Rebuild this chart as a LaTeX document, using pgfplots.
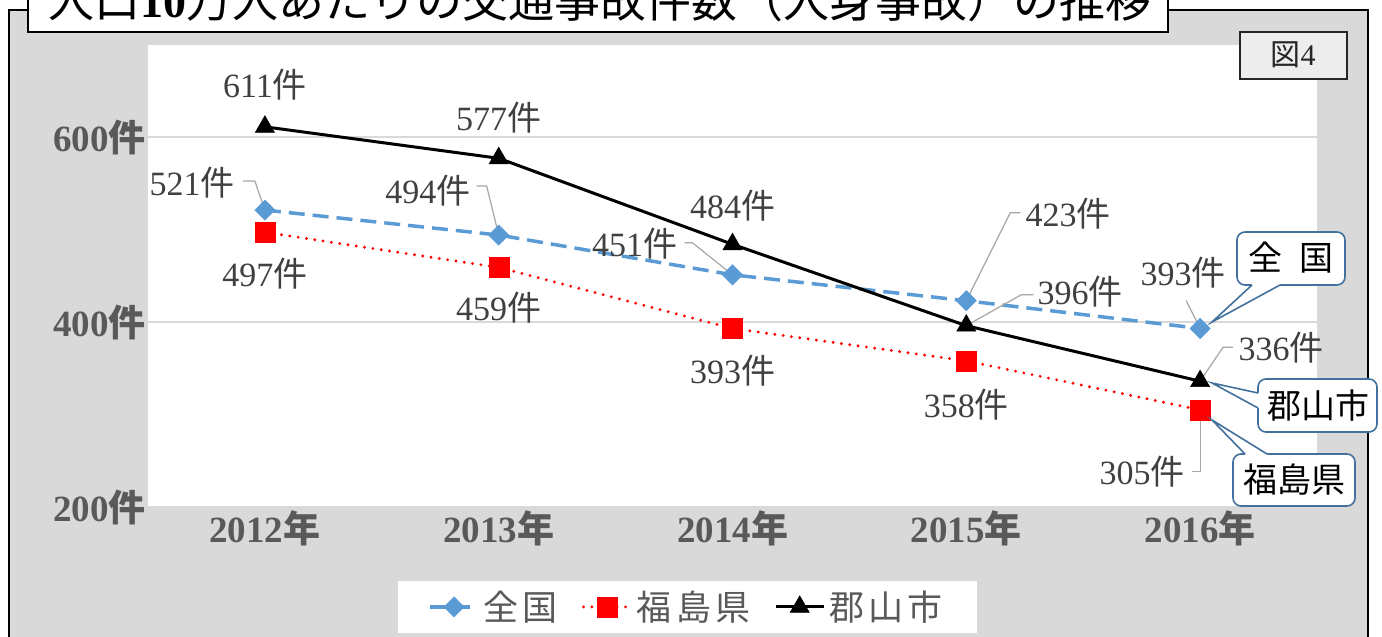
\documentclass[border=0pt]{standalone}
\usepackage{pgfplots}
\pgfplotsset{compat=1.18}
\usepackage{fontspec}
\setmainfont{Liberation Serif}
\newfontfamily\cjk{Noto Sans CJK JP}
\newfontfamily\cjkwide[LetterSpace=12]{Noto Sans CJK JP}
\definecolor{bggray}{HTML}{D9D9D9}
\definecolor{boxgray}{HTML}{EDEDED}
\definecolor{tickgray}{HTML}{595959}
\definecolor{lblgray}{HTML}{404040}
\definecolor{zenkoku}{HTML}{5B9BD5}
\definecolor{callout}{HTML}{41719C}
\definecolor{leader}{HTML}{A6A6A6}
\newcommand{\ken}{{\cjk 件}}
\tikzset{
  lbl/.style={font=\fontsize{17}{17}\selectfont, text=lblgray, inner sep=0pt},
  ldr/.style={leader, line width=0.6pt},
}

\begin{document}
\begin{tikzpicture}
\useasboundingbox (0,0) rectangle (691pt,318.5pt);
\clip (0,0) rectangle (691pt,318.5pt);

% frame and title (coordinates in px, origin top left)
\begin{scope}[x=0.5pt,y=-0.5pt,shift={(0,318.5pt)}]
  \fill[white] (0,0) rectangle (1382,637);
  \draw[black, line width=1pt, fill=bggray] (9,10) rectangle (1368,680);
  \draw[black, line width=1pt, fill=white] (28,-60) rectangle (1168,32);
  \node[font=\fontsize{23}{24}\selectfont] at (600,0)
    {{\cjk 人口}\textbf{10}{\cjk 万人あたりの交通事故件数（人身事故）の推移}};
\end{scope}

\begin{axis}[
    at={(74pt,65pt)}, anchor=south west,
    scale only axis, width=584.5pt, height=231.25pt,
    xmin=-0.5, xmax=4.5, ymin=200, ymax=700,
    xtick={0,1,2,3,4},
    xticklabels={2012{\cjk 年},2013{\cjk 年},2014{\cjk 年},2015{\cjk 年},2016{\cjk 年}},
    ytick={200,400,600},
    yticklabels={200\ken,400\ken,600\ken},
    axis line style={draw=none},
    major tick length=0pt,
    ymajorgrids,
    grid style={bggray, line width=0.6pt},
    axis background/.style={fill=white},
    tick label style={font=\fontsize{18.5}{18.5}\selectfont\bfseries, text=tickgray},
    yticklabel style={anchor=east, inner sep=0pt, xshift=-1pt},
    xticklabel style={anchor=center, inner sep=0pt, yshift=-10.5pt},
    clip=false,
    legend columns=3,
    legend style={at={(axis description cs:0.4615,-0.216)}, anchor=center,
                  fill=white, draw=none, text=tickgray,
                  font=\fontsize{17.5}{17.5}\selectfont\cjkwide,
                  inner xsep=15pt, inner ysep=3pt,
                  /tikz/every even column/.append style={column sep=10pt}},
    legend image code/.code={
      \draw[mark repeat=2, mark phase=2]
        plot coordinates {(0cm,0cm) (0.42cm,0cm) (0.84cm,0cm)};},
  ]

\addplot[zenkoku, line width=1.75pt, dash pattern=on 8pt off 4pt,
         mark=square*, mark size=3.6pt,
         mark options={solid, rotate=45, fill=zenkoku, draw=zenkoku, line width=0.2pt}]
  coordinates {(0,521) (1,494) (2,451) (3,423) (4,393)};
\addlegendentry{全国}

\addplot[red, line width=1.6pt, dash pattern=on 0pt off 4.2pt, line cap=round,
         mark=square*, mark size=5pt,
         mark options={solid, fill=red, draw=red, line width=0.2pt}]
  coordinates {(0,497) (1,459) (2,393) (3,358) (4,305)};
\addlegendentry{福島県}

\addplot[black, line width=1.5pt,
         mark=triangle*, mark size=5.5pt,
         mark options={solid, line width=0.3pt}]
  coordinates {(0,611) (1,577) (2,484) (3,396) (4,336)};
\addlegendentry{郡山市}

% data labels: 全国
\draw[ldr] (axis cs:0,521) -- ++(-5pt,14.5pt) -- ++(-6pt,0pt);
\node[lbl, anchor=east, xshift=-15pt, yshift=13.5pt] at (axis cs:0,521) {521\ken};
\draw[ldr] (axis cs:1,494) -- ++(-6pt,24.5pt) -- ++(-5pt,0pt);
\node[lbl, anchor=east, xshift=-14pt, yshift=22pt] at (axis cs:1,494) {494\ken};
\draw[ldr] (axis cs:2,451) -- ++(-20pt,16pt) -- ++(-4pt,0pt);
\node[lbl, anchor=east, xshift=-27.5pt, yshift=15.5pt] at (axis cs:2,451) {451\ken};
\draw[ldr] (axis cs:3,423) -- ++(22pt,44pt) -- ++(5pt,0pt);
\node[lbl, anchor=west, xshift=29.5pt, yshift=43.5pt] at (axis cs:3,423) {423\ken};
\draw[ldr] (axis cs:4,393) -- ++(-7pt,14pt);
\node[lbl, xshift=-8.5pt, yshift=28pt] at (axis cs:4,393) {393\ken};

% data labels: 郡山市
\node[lbl, yshift=21pt] at (axis cs:0,611) {611\ken};
\node[lbl, yshift=20.5pt] at (axis cs:1,577) {577\ken};
\node[lbl, yshift=19.5pt] at (axis cs:2,484) {484\ken};
\draw[ldr] (axis cs:3,396) -- ++(27.5pt,15.5pt) -- ++(6pt,0pt);
\node[lbl, anchor=west, xshift=35.5pt, yshift=17pt] at (axis cs:3,396) {396\ken};
\draw[ldr] (axis cs:4,336) -- ++(11.5pt,17pt) -- ++(5pt,0pt);
\node[lbl, anchor=west, xshift=19pt, yshift=17pt] at (axis cs:4,336) {336\ken};

% data labels: 福島県
\node[lbl, yshift=-20.5pt] at (axis cs:0,497) {497\ken};
\node[lbl, yshift=-20pt] at (axis cs:1,459) {459\ken};
\node[lbl, yshift=-21pt] at (axis cs:2,393) {393\ken};
\node[lbl, yshift=-22pt] at (axis cs:3,358) {358\ken};
\draw[ldr] (axis cs:4,305) -- ++(0pt,-31pt) -- ++(-4pt,0pt);
\node[lbl, anchor=east, xshift=-7.5pt, yshift=-31pt] at (axis cs:4,305) {305\ken};
\end{axis}

% figure number and callouts (px coordinates)
\begin{scope}[x=0.5pt,y=-0.5pt,shift={(0,318.5pt)}, line width=0.8pt]
  \draw[black!85, line width=0.8pt, fill=boxgray] (1240,32) rectangle (1347,79);
  \node[font=\fontsize{15}{15}\selectfont, text=black!85] at (1293,55) {{\cjk 図}4};

  \draw[callout, fill=white, rounded corners=4pt] (1237,232) rectangle (1345,285);
  \fill[white] (1252,281) -- (1252,285) -- (1212,322) -- (1280,285) -- (1280,281) -- cycle;
  \draw[callout] (1252,285) -- (1212,322) -- (1280,285);
  \node[font=\fontsize{17}{17}\selectfont\cjk] at (1291,258) {全\hspace{0.5em}国};

  \draw[callout, fill=white, rounded corners=4pt] (1258,379) rectangle (1377,432);
  \fill[white] (1262,393) -- (1258,393) -- (1212,383) -- (1258,408) -- (1262,408) -- cycle;
  \draw[callout] (1258,393) -- (1212,383) -- (1258,408);
  \node[font=\fontsize{17}{17}\selectfont\cjk] at (1318,406) {郡山市};

  \draw[callout, fill=white, rounded corners=4pt] (1233,454) rectangle (1355,506);
  \fill[white] (1245,458) -- (1245,454) -- (1212,420) -- (1267,454) -- (1267,458) -- cycle;
  \draw[callout] (1245,454) -- (1212,420) -- (1267,454);
  \node[font=\fontsize{17}{17}\selectfont\cjk] at (1294,480) {福島県};
\end{scope}
\end{tikzpicture}
\end{document}
